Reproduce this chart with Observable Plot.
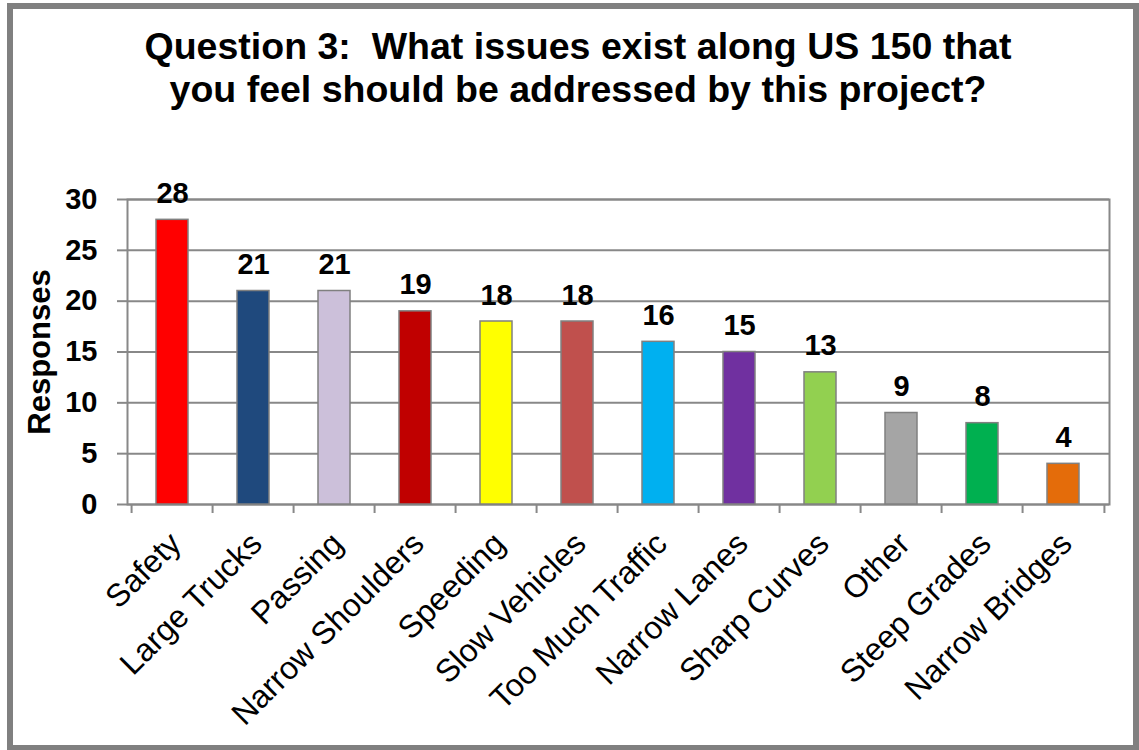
<!DOCTYPE html>
<html>
<head>
<meta charset="utf-8">
<script src="https://cdn.jsdelivr.net/npm/d3@7"></script>
<script src="https://cdn.jsdelivr.net/npm/@observablehq/plot@0.6"></script>
<style>
  html, body { margin: 0; padding: 0; background: #fff; }
  #wrap { position: relative; width: 1139px; height: 750px; overflow: hidden; font-family: "Liberation Sans", Arial, sans-serif; color: #000; }
  #border { position: absolute; left: 7px; top: 3px; width: 1132px; height: 748px; box-sizing: border-box; border: 6px solid #808080; pointer-events: none; }
  #title { position: relative; height: 130px; box-sizing: border-box; padding-top: 25px; padding-left: 17px; text-align: center; font-size: 37.5px; line-height: 43px; font-weight: bold; white-space: pre; }
  #chart svg { display: block; }
</style>
</head>
<body>
<div id="wrap">
  <div id="title">Question 3:  What issues exist along US 150 that
you feel should be addressed by this project?</div>
  <div id="chart"></div>
  <div id="border"></div>
</div>
<script>
const categories = ["Safety", "Large Trucks", "Passing", "Narrow Shoulders", "Speeding", "Slow Vehicles", "Too Much Traffic", "Narrow Lanes", "Sharp Curves", "Other", "Steep Grades", "Narrow Bridges"];
const responses = [28, 21, 21, 19, 18, 18, 16, 15, 13, 9, 8, 4];
const barColors = ["#FF0000", "#1F497D", "#CCC0DA", "#C00000", "#FFFF00", "#C0504D", "#00B0F0", "#7030A0", "#92D050", "#A5A5A5", "#00B050", "#E46C0A"];
const yTicks = [0, 5, 10, 15, 20, 25, 30];
const yTitle = "Responses";

const data = categories.map((c, i) => ({issue: c, responses: responses[i], color: barColors[i]}));

const W = 1139, H = 620;
const mL = 127, mR = 30, mT = 69, mB = 246;
const step = (W - mL - mR) / categories.length;
const gray = "#888888";

const chart = Plot.plot({
  width: W, height: H,
  marginLeft: mL, marginRight: mR, marginTop: mT, marginBottom: mB,
  style: {fontFamily: '"Liberation Sans", Arial, sans-serif', background: "transparent", color: "#000", overflow: "visible"},
  x: {domain: categories, paddingInner: 0.6, paddingOuter: 0.3, label: null},
  y: {domain: [0, 30], label: null},
  marks: [
    Plot.gridY(yTicks, {stroke: gray, strokeOpacity: 1, strokeWidth: 2}),
    Plot.frame({stroke: gray, strokeWidth: 2}),
    Plot.barY(data, {x: "issue", y: "responses", fill: "color", stroke: "#808080", strokeWidth: 1.5}),
    Plot.text(data, {x: "issue", y: "responses", text: d => String(d.responses), dy: -17, lineAnchor: "bottom", fontSize: 29, fontWeight: "bold", fill: "#000"}),
    Plot.axisY(yTicks, {tickSize: 10, tickPadding: 20, stroke: gray, strokeWidth: 2, strokeOpacity: 1, fontSize: 29, fontWeight: "bold", fill: "#000", label: null}),
    Plot.axisX({tickSize: 0, tickRotate: -45, textAnchor: "end", lineAnchor: "middle", tickPadding: 34, dx: 3, fontSize: 32, fill: "#000", label: null}),
    Plot.axisX(categories, {tickSize: 9, tickFormat: () => "", dx: -step / 2, stroke: gray, strokeWidth: 2, strokeOpacity: 1, label: null}),
    Plot.axisX([categories[categories.length - 1]], {tickSize: 9, tickFormat: () => "", dx: step / 2, stroke: gray, strokeWidth: 2, strokeOpacity: 1, label: null}),
    Plot.text([yTitle], {frameAnchor: "left", textAnchor: "middle", rotate: -90, dx: -87, fontSize: 31, fontWeight: "bold", fill: "#000"})
  ]
});
document.getElementById("chart").appendChild(chart);
</script>
</body>
</html>
